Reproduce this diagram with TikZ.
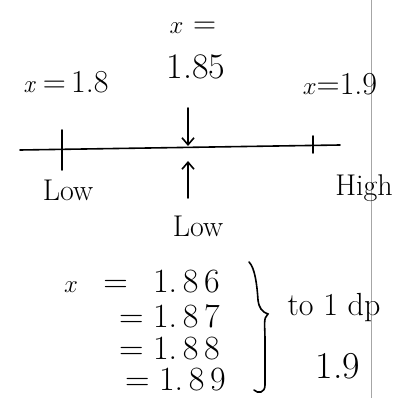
\documentclass[tikz,border=0pt]{standalone}
\usetikzlibrary{arrows.meta}
\begin{document}
\begin{tikzpicture}[x=1pt,y=-1pt,
  hand/.style={inner sep=0pt},
  fs/.style={font=\fontsize{#1}{#1}\selectfont},
  ln/.style={line width=1.6pt, line cap=round},
  arr/.style={ln, -{Straight Barb[length=7pt,width=12pt]}}]
\useasboundingbox (0,0) rectangle (409,398);
% right margin line
\draw[gray!70, line width=0.8pt] (371,0) coordinate (m1) -- (371,398) coordinate (m2);
% number line
\coordinate (L) at (20,150);
\coordinate (R) at (340,145);
\draw[ln] (L) -- (R);
\coordinate (t1a) at (62,130); \coordinate (t1b) at (62,170);
\draw[ln] (t1a) -- (t1b);
\coordinate (t2a) at (313,136); \coordinate (t2b) at (313,153);
\draw[ln] (t2a) -- (t2b);
% labels above
\node[hand, fs=32] (a) at (66,82) {$\mathit{x}$\,=\,1.8};
\node[hand, fs=32] (b1) at (193,28) {$x$ =};
\node[hand, fs=36] (b2) at (196,67) {1.85};
\node[hand, fs=32] (c) at (340,84) {$x$=1.9};
% arrows
\coordinate (dtop) at (188,108); \coordinate (dbot) at (188,146);
\draw[arr] (dtop) -- (dbot);
\coordinate (ubot) at (188,198); \coordinate (utop) at (188,161);
\draw[arr] (ubot) -- (utop);
% labels below
\node[hand, fs=30] (low1) at (68,190) {Low};
\node[hand, fs=30] (low2) at (198,226) {Low};
\node[hand, fs=30] (high) at (364,188) {High};
% values
\node[hand, fs=34, anchor=east] (v1) at (220,282) {$x$\;\, = \;\,1.\,8\,6};
\node[hand, fs=34, anchor=east] (v2) at (220,316) {=\;1.\,8\,7};
\node[hand, fs=34, anchor=east] (v3) at (220,349) {=\;1.\,8\,8};
\node[hand, fs=34, anchor=east] (v4) at (226,380) {=\;1.\,8\,9};
% brace
\draw[ln] (249,262) .. controls (255,268) and (257,285) .. (258,300)
  .. controls (259,308) and (262,312) .. (268,314)
  .. controls (263,318) and (265,325) .. (265,340)
  -- (265,385) .. controls (265,393) and (258,394) .. (254,390);
\node[hand, fs=32] (dp) at (334,308) {to 1 dp};
\node[hand, fs=38] (r) at (338,366) {1.9};
\end{tikzpicture}
\end{document}
